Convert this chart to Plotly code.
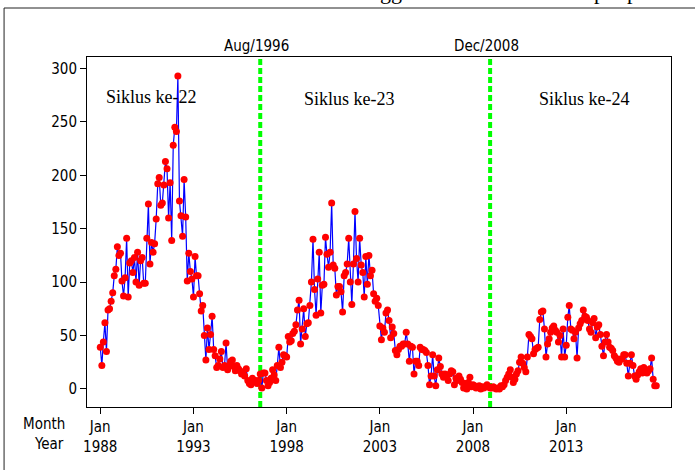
import pandas as pd
import plotly.graph_objects as go

# Monthly sunspot numbers, Jan 1988 - Nov 2017
y1988 = [39, 22, 44, 62, 35, 74, 75, 82, 90, 106, 112, 133]
y1989 = [125, 127, 101, 87, 104, 141, 86, 118, 120, 109, 123, 100]
y1990 = [128, 97, 120, 123, 99, 99, 141, 173, 117, 137, 128, 136]
y1991 = [159, 192, 198, 172, 174, 191, 213, 206, 160, 193, 139, 228]
y1992 = [245, 241, 293, 176, 162, 143, 196, 161, 101, 127, 110, 103]
y1993 = [86, 124, 106, 106, 89, 73, 78, 50, 27, 57, 37, 51]
y1994 = [68, 37, 31, 20, 22, 28, 35, 20, 22, 43, 18, 22]
y1995 = [26, 27, 21, 17, 22, 19, 17, 14, 15, 12, 19, 8]
y1996 = [5, 4, 10, 7, 8, 5, 8, 14, 1, 15, 15, 8]
y1997 = [3, 6, 10, 18, 13, 8, 22, 39, 20, 25, 32, 31]
y1998 = [30, 49, 44, 45, 52, 54, 60, 74, 83, 42, 56, 75]
y1999 = [49, 61, 62, 78, 100, 140, 93, 69, 103, 128, 71, 97]
y2000 = [98, 142, 126, 114, 128, 174, 116, 113, 88, 96, 96, 91]
y2001 = [72, 106, 109, 117, 141, 100, 79, 117, 166, 122, 100, 141]
y2002 = [116, 109, 86, 124, 98, 125, 106, 111, 89, 82, 85, 78]
y2003 = [59, 46, 57, 53, 71, 74, 64, 48, 58, 52, 36, 32]
y2004 = [37, 40, 40, 42, 42, 53, 42, 26, 40, 39, 14, 26]
y2005 = [26, 22, 39, 37, 37, 36, 34, 22, 4, 12, 32, 12]
y2006 = [3, 18, 29, 21, 14, 11, 14, 12, 8, 14, 17, 16]
y2007 = [4, 10, 8, 12, 9, 6, 1, 5, 0, 6, 11, 2]
y2008 = [4, 3, 1, 2, 3, 0, 2, 1, 2, 4, 2, 1]
y2009 = [1, 2, 1, 0, 1, 0, 3, 2, 4, 8, 11, 14]
y2010 = [18, 11, 6, 9, 14, 17, 25, 30, 24, 20, 16, 30]
y2011 = [51, 49, 47, 33, 37, 38, 39, 65, 72, 73, 56, 30]
y2012 = [42, 47, 53, 57, 59, 55, 53, 44, 50, 30, 56, 30]
y2013 = [41, 67, 78, 56, 55, 47, 53, 29, 57, 61, 64, 74]
y2014 = [68, 67, 64, 56, 53, 62, 66, 48, 58, 60, 51, 40]
y2015 = [31, 44, 51, 44, 39, 38, 36, 31, 29, 26, 25, 28]
y2016 = [28, 32, 32, 24, 12, 24, 32, 22, 12, 9, 13, 16]
y2017 = [19, 15, 20, 18, 15, 17, 19, 29, 9, 3, 3]

sunspots = (y1988 + y1989 + y1990 + y1991 + y1992 + y1993 + y1994 + y1995
            + y1996 + y1997 + y1998 + y1999 + y2000 + y2001 + y2002 + y2003
            + y2004 + y2005 + y2006 + y2007 + y2008 + y2009 + y2010 + y2011
            + y2012 + y2013 + y2014 + y2015 + y2016 + y2017)
months = pd.date_range("1988-01-01", periods=len(sunspots), freq="MS")

# Axis ticks
tick_dates = ["1988-01-01", "1993-01-01", "1998-01-01",
              "2003-01-01", "2008-01-01", "2013-01-01"]
tick_years = ["1988", "1993", "1998", "2003", "2008", "2013"]
tick_text = ["Jan<br>" + y for y in tick_years]
y_ticks = [0, 50, 100, 150, 200, 250, 300]

# Cycle boundaries (solar minima) and cycle labels
minima_dates = ["1996-08-01", "2008-12-01"]
minima_labels = ["Aug/1996", "Dec/2008"]
cycle_labels = ["Siklus ke-22", "Siklus ke-23", "Siklus ke-24"]
cycle_label_dates = ["1990-10-07", "2001-05-16", "2013-12-22"]
cycle_label_y = [273, 271, 271]

SANS = "DejaVu Sans Condensed, Liberation Sans Narrow, DejaVu Sans, sans-serif"
SERIF = "Liberation Serif, Times New Roman, serif"

fig = go.Figure()
fig.add_trace(go.Scatter(
    x=months, y=sunspots, mode="lines+markers",
    line=dict(color="#0000FF", width=1.2),
    marker=dict(color="#FF0000", size=7),
    showlegend=False,
))

for d in minima_dates:
    fig.add_shape(type="line", xref="x", yref="paper", x0=d, x1=d, y0=0, y1=1,
                  line=dict(color="#00FF00", width=4, dash="6px,3px"),
                  layer="below")

for d, lab in zip(minima_dates, minima_labels):
    fig.add_annotation(x=d, xref="x", y=1.031, yref="paper", text=lab,
                       showarrow=False, xanchor="center", yanchor="middle",
                       xshift=-4, font=dict(family=SANS, size=15, color="black"))

for d, lab, yy in zip(cycle_label_dates, cycle_labels, cycle_label_y):
    fig.add_annotation(x=d, y=yy, text=lab, showarrow=False,
                       xanchor="center", yanchor="middle",
                       font=dict(family=SERIF, size=18, color="black"))

# Row captions for the two-line time axis
fig.add_annotation(x=-0.034, y=-0.049, xref="paper", yref="paper", text="Month",
                   showarrow=False, xanchor="right", yanchor="middle",
                   font=dict(family=SANS, size=15, color="black"))
fig.add_annotation(x=-0.036, y=-0.106, xref="paper", yref="paper", text="Year",
                   showarrow=False, xanchor="right", yanchor="middle",
                   font=dict(family=SANS, size=15, color="black"))

# Heading above the frame (only its lower part falls inside the page)
for txt, xp in zip(["gg", "p", "p"], [0.520, 0.878, 0.934]):
    fig.add_annotation(x=xp, y=1.145, xref="paper", yref="paper", text=txt,
                       showarrow=False, xanchor="center", yanchor="bottom",
                       font=dict(family=SERIF, size=22, color="black"))

# Outer frame
fig.add_shape(type="rect", xref="paper", yref="paper",
              x0=-0.142, x1=1.06, y0=-0.2, y1=1.140,
              line=dict(color="#222222", width=1), fillcolor="rgba(0,0,0,0)")

fig.update_xaxes(
    type="date", range=["1987-04-16", "2018-08-16"],
    tickmode="array", tickvals=tick_dates, ticktext=tick_text,
    ticks="outside", ticklen=6, tickcolor="black", tickwidth=1,
    showline=True, mirror=True, linecolor="black", linewidth=1,
    showgrid=False, zeroline=False,
    tickfont=dict(family=SANS, size=15, color="black"),
)
fig.update_yaxes(
    range=[-16.9, 310.7], tickmode="array", tickvals=y_ticks,
    ticks="outside", ticklen=6, tickcolor="black", tickwidth=1,
    showline=True, mirror=True, linecolor="black", linewidth=1,
    showgrid=False, zeroline=False,
    tickfont=dict(family=SANS, size=15, color="black"),
)
fig.update_layout(
    width=695, height=470,
    margin=dict(l=87, r=24, t=57, b=63),
    paper_bgcolor="white", plot_bgcolor="white",
)

fig.write_html("out.html")
